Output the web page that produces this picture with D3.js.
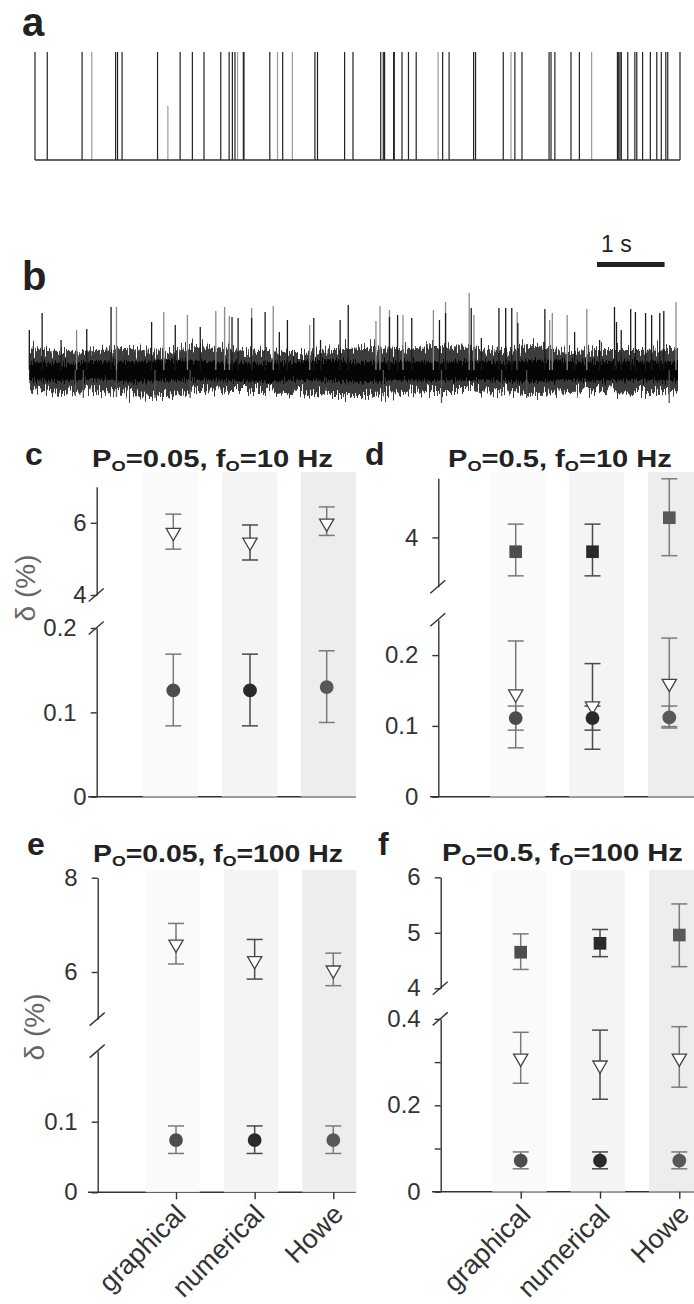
<!DOCTYPE html>
<html><head><meta charset="utf-8">
<script src="https://cdn.jsdelivr.net/npm/d3@7"></script>
<style>
body{margin:0;background:#fff;}
svg{display:block;font-family:"Liberation Sans",Arial,Helvetica,sans-serif;}
</style></head><body>
<svg id="fig" width="694" height="1304"></svg>
<script>
// ================= DATA =================
// panel a : idealised event train (time in s, relative amplitude, 1 = light grey)
const spikeTimesA = [0.00,0.19,0.73,0.88,1.25,1.28,1.35,1.90,2.06,2.25,2.44,2.62,2.88,3.01,3.06,3.10,3.14,3.23,3.24,3.64,3.76,3.84,3.99,4.34,4.38,4.80,4.93,5.36,5.40,5.42,5.56,5.57,5.69,5.79,5.91,6.25,6.32,6.42,6.80,6.83,7.26,7.38,7.44,7.55,7.97,8.00,8.06,8.31,8.44,8.63,9.03,9.05,9.07,9.09,9.19,9.30,9.33,9.42,9.54,9.64,9.71,9.78,9.81,10.00];
const spikeAmpsA  = [1,1,1,1,1,1,1,1,0.5,1,1,1,1,1,1,1,1,1,1,1,1,1,1,1,1,1,1,1,1,1,1,1,1,1,1,1,1,1,1,1,1,1,1,1,1,1,1,1,1,1,1,1,1,1,1,1,1,1,1,1,1,1,1,1];
const spikeGreyA  = [0,0,0,1,0,0,0,0,1,0,0,0,0,0,0,0,1,0,0,0,1,0,1,0,0,0,0,0,0,0,0,0,0,0,0,1,0,0,0,0,0,1,0,0,0,0,0,0,0,1,0,0,0,0,0,0,0,0,0,0,0,0,0,0];

// panel b : noisy recording. envelope read every 0.5 s (amplitude units = px-like)
const envTimesB  = [0,0.5,1,1.5,2,2.5,3,3.5,4,4.5,5,5.5,6,6.5,7,7.5,8,8.5,9,9.5,9.6];
const fringeTopB = [22,18,20,21,18,24,20,18,17,20,22,21,23,22,19,25,18,20,20,21,20];
const fringeBotB = [-18,-23,-20,-25,-26,-20,-21,-21,-23,-25,-25,-23,-21,-21,-20,-24,-22,-21,-22,-22,-20];
const coreTopB   = [8,7,9,8,10,9,8,7,9,10,8,9,8,9,8,10,9,8,9,8,8];
const coreBotB   = [-10,-11,-9,-12,-11,-10,-11,-12,-10,-11,-12,-10,-11,-10,-11,-12,-10,-11,-10,-11,-10];
const upTimesB = [0.00,0.19,0.47,0.70,0.85,1.21,1.29,1.81,1.99,2.16,2.34,2.53,2.76,2.89,2.96,3.00,3.09,3.29,3.29,3.49,3.61,3.70,3.82,4.15,4.21,4.31,4.60,4.72,5.13,5.19,5.33,5.33,5.45,5.53,5.66,5.98,6.07,6.16,6.16,6.51,6.54,6.58,6.69,6.95,7.05,7.14,7.22,7.23,7.63,7.70,7.74,7.96,8.07,8.25,8.44,8.66,8.69,8.76,8.90,8.97,9.12,9.21,9.33,9.39,9.57];
const upAmpsB  = [40,57,30,40,41,63,63,48,58,45,55,43,59,63,54,53,52,62,52,58,64,38,50,45,52,30,50,65,49,64,60,53,55,55,52,60,50,68,57,77,62,55,32,62,62,62,58,47,61,50,57,55,38,61,30,63,48,40,61,58,57,55,57,59,68];
const upGreyB  = [0,0,0,1,0,0,1,0,1,0,1,0,1,1,1,0,0,1,0,0,1,0,0,1,0,0,0,0,1,1,1,0,0,1,0,1,0,1,0,1,0,1,0,0,0,0,1,0,0,1,1,1,0,1,0,0,0,0,0,0,0,0,0,0,1];
const downTimesB = [0.68,0.80,1.29,1.86,2.38,5.24,6.10,6.99,7.36,9.47];
const downAmpsB  = [-26,-28,-27,-28,-28,-26,-33,-26,-28,-33];

// panels c-f
const methods = ["graphical","numerical","Howe"];
// c : Po=0.05, fo=10 Hz
const cTriMean=[5.73,5.46,5.99], cTriLow=[5.27,4.97,5.65], cTriHigh=[6.24,5.94,6.44];
const cCirMean=[0.126,0.126,0.130], cCirLow=[0.084,0.084,0.088], cCirHigh=[0.169,0.169,0.173];
// d : Po=0.5, fo=10 Hz
const dSqMean=[3.71,3.71,4.40], dSqLow=[3.22,3.22,3.63], dSqHigh=[4.27,4.27,5.19];
const dTriMean=[0.145,0.128,0.160], dTriLow=[0.069,0.067,0.097], dTriHigh=[0.220,0.188,0.224];
const dCirMean=[0.111,0.111,0.112], dCirLow=[0.094,0.094,0.099], dCirHigh=[0.128,0.128,0.128];
// e : Po=0.05, fo=100 Hz
const eTriMean=[6.59,6.24,6.04], eTriLow=[6.17,5.85,5.71], eTriHigh=[7.03,6.69,6.40];
const eCirMean=[0.074,0.074,0.074], eCirLow=[0.055,0.055,0.055], eCirHigh=[0.094,0.094,0.094];
// f : Po=0.5, fo=100 Hz
const fSqMean=[4.65,4.81,4.96], fSqLow=[4.34,4.57,4.39], fSqHigh=[4.98,5.06,5.52];
const fTriMean=[0.309,0.293,0.309], fTriLow=[0.251,0.214,0.242], fTriHigh=[0.369,0.374,0.382];
const fCirMean=[0.072,0.072,0.072], fCirLow=[0.053,0.053,0.053], fCirHigh=[0.092,0.092,0.092];

// ================= DRAWING =================
const svg = d3.select("#fig");

// filters giving the recording its hairy texture
const defs = svg.append("defs");
function hairFilter(id, freq, seed, scale){
  const f = defs.append("filter").attr("id",id).attr("filterUnits","userSpaceOnUse")
    .attr("x",0).attr("y",260).attr("width",694).attr("height",170)
    .attr("color-interpolation-filters","sRGB");
  f.append("feTurbulence").attr("type","fractalNoise").attr("baseFrequency",freq).attr("numOctaves",1).attr("seed",seed).attr("result","t");
  f.append("feColorMatrix").attr("in","t").attr("type","matrix")
    .attr("values","0 0 0 0 0.5  1 0 0 0 0  0 0 0 0 0  0 0 0 0 1").attr("result","m");
  f.append("feDisplacementMap").attr("in","SourceGraphic").attr("in2","m").attr("scale",scale)
    .attr("xChannelSelector","R").attr("yChannelSelector","G");
}
hairFilter("hair","0.75 0.04",7,34);
hairFilter("hair2","0.9 0.05",3,16);

function panelLabel(t, x, y, size){
  svg.append("text").attr("x",x).attr("y",y).attr("font-size",size).attr("font-weight","bold")
    .attr("fill","#222").text(t);
}

// ---- panel a ----
panelLabel("a", 22, 36, 40);
const xA = d3.scaleLinear().domain([0,10]).range([35,680]);
const yA = d3.scaleLinear().domain([0,1]).range([160,52]);
const gA = svg.append("g");
gA.selectAll("line.sp").data(spikeTimesA).join("line")
  .attr("x1",d=>xA(d)).attr("x2",d=>xA(d))
  .attr("y1",yA(0)).attr("y2",(d,i)=>yA(spikeAmpsA[i]))
  .attr("stroke",(d,i)=>spikeGreyA[i]?"#9a9a9a":"#222").attr("stroke-width",1.2);
gA.append("line").attr("x1",xA(0)).attr("x2",xA(10)).attr("y1",yA(0)).attr("y2",yA(0))
  .attr("stroke","#333").attr("stroke-width",1.6);

// ---- panel b ----
panelLabel("b", 22, 290, 40);
const xB = d3.scaleLinear().domain([0,9.6]).range([29.3,678]);
const yB = d3.scaleLinear().domain([0,60]).range([370,310]);
const gB = svg.append("g");
const fringe = d3.area().x((d,i)=>xB(envTimesB[i])).y0((d,i)=>yB(fringeBotB[i])).y1((d,i)=>yB(fringeTopB[i])).curve(d3.curveMonotoneX);
const core = d3.area().x((d,i)=>xB(envTimesB[i])).y0((d,i)=>yB(coreBotB[i])).y1((d,i)=>yB(coreTopB[i])).curve(d3.curveMonotoneX);
gB.append("path").attr("d",fringe(envTimesB)).attr("fill","#3c3c3c").attr("filter","url(#hair)");
gB.append("path").attr("d",core(envTimesB)).attr("fill","#050505").attr("filter","url(#hair2)");
gB.selectAll("line.up").data(upTimesB).join("line")
  .attr("x1",d=>xB(d)).attr("x2",d=>xB(d)).attr("y1",yB(0)).attr("y2",(d,i)=>yB(upAmpsB[i]))
  .attr("stroke",(d,i)=>upGreyB[i]?"#8a8a8a":"#1a1a1a").attr("stroke-width",1.3);
gB.selectAll("line.dn").data(downTimesB).join("line")
  .attr("x1",d=>xB(d)).attr("x2",d=>xB(d)).attr("y1",yB(0)).attr("y2",(d,i)=>yB(downAmpsB[i]))
  .attr("stroke","#555").attr("stroke-width",1.3);
// scale bar 1 s
const sbX = 597;
svg.append("line").attr("x1",sbX).attr("x2",sbX + xB(1)-xB(0)).attr("y1",264.5).attr("y2",264.5)
  .attr("stroke","#222").attr("stroke-width",5);
svg.append("text").attr("x",601).attr("y",252).attr("font-size",23).attr("fill","#222").text("1 s");

// ---- panels c-f ----
const colFill = ["#f9f9f9","#f1f1f1","#e9e9e9"];
const markFill = ["#4d4d4d","#2a2a2a","#585858"];
const barCol = ["#7a7a7a","#4a4a4a","#7a7a7a"];

function title(x, y, targetW, p, f){
  const t = svg.append("text").attr("x",x).attr("y",y).attr("font-weight","bold").attr("font-size",24).attr("fill","#222");
  t.append("tspan").text("P");
  t.append("tspan").attr("font-size",15).attr("dy",4).text("O");
  t.append("tspan").attr("dy",-4).text("=" + p + ", f");
  t.append("tspan").attr("font-size",15).attr("dy",4).text("O");
  t.append("tspan").attr("dy",-4).text("=" + f + " Hz");
  const w = t.node().getBBox().width;
  t.attr("transform",`translate(${x},0) scale(${targetW/w},1) translate(${-x},0)`);
}

function yLabel(x, y){
  svg.append("text").attr("transform",`translate(${x},${y}) rotate(-90)`).attr("text-anchor","middle")
    .attr("font-size",28).attr("fill","#666").text("δ (%)");
}

function drawPanel(cfg, series){
  const g = svg.append("g");
  const xM = d3.scaleLinear().domain([0,2]).range(cfg.markerRange);
  const xC = d3.scaleLinear().domain([0,2]).range(cfg.colRange);
  const yU = d3.scaleLinear().domain(cfg.upDomain).range(cfg.upRange);
  const yL = d3.scaleLinear().domain(cfg.loDomain).range(cfg.loRange);
  const y0 = yL(0);
  // x axis line
  g.append("line").attr("x1",cfg.xStart).attr("x2",cfg.xEnd).attr("y1",y0).attr("y2",y0)
    .attr("stroke","#333").attr("stroke-width",1.4);
  // shaded method columns
  g.selectAll("rect.col").data(methods).join("rect")
    .attr("x",(d,i)=>xC(i)).attr("width",cfg.colW).attr("y",cfg.colTop).attr("height",y0-cfg.colTop)
    .attr("fill",(d,i)=>colFill[i]).attr("fill-opacity",0.82);
  // x ticks + labels
  if (cfg.xLabels){
    const ax = d3.axisBottom(xM).tickValues([0,1,2]).tickFormat(i=>methods[i]).tickSize(7).tickSizeOuter(0);
    const gx = g.append("g").attr("transform",`translate(0,${y0})`).call(ax);
    gx.select(".domain").remove();
    gx.selectAll(".tick line").attr("stroke","#333").attr("stroke-width",1.4);
    gx.selectAll(".tick text").attr("x",0).attr("y",0).attr("dy",0)
      .attr("text-anchor","end").attr("font-size",27).attr("fill","#333")
      .attr("font-family","Liberation Sans, Arial, sans-serif")
      .attr("transform",`translate(11,${cfg.labelY - y0}) rotate(-45)`);
  }
  // y axes (broken)
  function yAxis(scale, ticks){
    const ax = d3.axisLeft(scale).tickValues(ticks).tickSize(6).tickSizeOuter(0).tickPadding(0)
      .tickFormat(d => (cfg.blank && cfg.blank.includes(d)) ? "" : String(d));
    const ga = g.append("g").attr("transform",`translate(${cfg.axisX},0)`).call(ax);
    ga.select(".domain").attr("stroke","#333").attr("stroke-width",1.4);
    ga.selectAll(".tick line").attr("stroke","#333").attr("stroke-width",1.4);
    ga.selectAll(".tick text").attr("font-size",24).attr("fill","#333")
      .attr("font-family","Liberation Sans, Arial, sans-serif")
      .attr("x", d => -((cfg.nearInt && Number.isInteger(d)) ? 10 : 20));
  }
  yAxis(yU, cfg.upTicks);
  yAxis(yL, cfg.loTicks);
  // break marks
  [yU(cfg.upDomain[0]), yL(cfg.loDomain[1])].forEach(yy=>{
    g.append("line").attr("x1",cfg.axisX-8).attr("y1",yy+6.5).attr("x2",cfg.axisX+7).attr("y2",yy-6.5)
      .attr("stroke","#333").attr("stroke-width",1.4);
  });
  // error bars
  series.forEach(s=>{
    const y = s.seg === "up" ? yU : yL;
    s.mean.forEach((m,i)=>{
      const cx = xM(i);
      const st = barCol[i];
      g.append("line").attr("x1",cx).attr("x2",cx).attr("y1",y(s.low[i])).attr("y2",y(s.high[i]))
        .attr("stroke",st).attr("stroke-width",1.5);
      [s.low[i], s.high[i]].forEach(v=>{
        g.append("line").attr("x1",cx-8).attr("x2",cx+8).attr("y1",y(v)).attr("y2",y(v))
          .attr("stroke",st).attr("stroke-width",1.5);
      });
    });
  });
  // markers
  series.forEach(s=>{
    const y = s.seg === "up" ? yU : yL;
    const sym = d3.symbol();
    g.selectAll(null).data(s.mean).join("path")
      .attr("d", s.type==="tri" ? sym.type(d3.symbolTriangle).size(88)()
                : s.type==="sq" ? sym.type(d3.symbolSquare).size(160)()
                : sym.type(d3.symbolCircle).size(150)())
      .attr("transform",(d,i)=>`translate(${xM(i)},${y(d)})` + (s.type==="tri" ? " rotate(180)" : ""))
      .attr("fill",(d,i)=> s.type==="tri" ? "#fff" : markFill[i])
      .attr("stroke",(d,i)=> s.type==="tri" ? "#444" : "none")
      .attr("stroke-width",1.3);
  });
}

// panel c
panelLabel("c", 25, 465, 32);
title(92, 467, 241, "0.05", "10");
yLabel(35, 588);
drawPanel({axisX:96.7, upDomain:[4,7], upRange:[595,486.7], loDomain:[0,0.2], loRange:[796.7,628],
  upTicks:[4,6], loTicks:[0,0.1,0.2], markerRange:[173.3,326.7], colRange:[143,301], colW:55, colTop:472,
  xStart:88, xEnd:356, xLabels:false, nearInt:true},
  [{type:"tri",seg:"up",mean:cTriMean,low:cTriLow,high:cTriHigh},
   {type:"cir",seg:"lo",mean:cCirMean,low:cCirLow,high:cCirHigh}]);

// panel d
panelLabel("d", 365, 465, 32);
title(448, 467, 224, "0.5", "10");
drawPanel({axisX:438.3, upDomain:[3,5.2], upRange:[586.7,478.3], loDomain:[0,0.25], loRange:[796.7,619.7],
  upTicks:[4], loTicks:[0,0.1,0.2], markerRange:[515.7,669.3], colRange:[490,648], colW:55, colTop:472,
  xStart:430, xEnd:694, xLabels:false},
  [{type:"sq",seg:"up",mean:dSqMean,low:dSqLow,high:dSqHigh},
   {type:"tri",seg:"lo",mean:dTriMean,low:dTriLow,high:dTriHigh},
   {type:"cir",seg:"lo",mean:dCirMean,low:dCirLow,high:dCirHigh}]);

// panel e
panelLabel("e", 27, 855, 32);
title(93, 862, 250, "0.05", "100");
yLabel(44, 1027);
drawPanel({axisX:97.7, upDomain:[5,8], upRange:[1019.15,877.7], loDomain:[0,0.2], loRange:[1192.3,1051.1],
  upTicks:[6,8], loTicks:[0,0.1], markerRange:[176,333.3], colRange:[145.7,302.3], colW:54, colTop:870,
  xStart:88, xEnd:356, xLabels:true, labelY:1216},
  [{type:"tri",seg:"up",mean:eTriMean,low:eTriLow,high:eTriHigh},
   {type:"cir",seg:"lo",mean:eCirMean,low:eCirLow,high:eCirHigh}]);

// panel f
panelLabel("f", 378, 855, 32);
title(442, 861, 241, "0.5", "100");
drawPanel({axisX:440.7, upDomain:[4,6], upRange:[988.3,877.3], loDomain:[0,0.4], loRange:[1191.7,1018.9],
  upTicks:[4,5,6], loTicks:[0,0.1,0.2,0.3,0.4], blank:[0.1,0.3], markerRange:[520.7,679.3], colRange:[492.3,649], colW:54.5, colTop:870,
  xStart:432, xEnd:694, xLabels:true, labelY:1216},
  [{type:"sq",seg:"up",mean:fSqMean,low:fSqLow,high:fSqHigh},
   {type:"tri",seg:"lo",mean:fTriMean,low:fTriLow,high:fTriHigh},
   {type:"cir",seg:"lo",mean:fCirMean,low:fCirLow,high:fCirHigh}]);
</script>
</body></html>
